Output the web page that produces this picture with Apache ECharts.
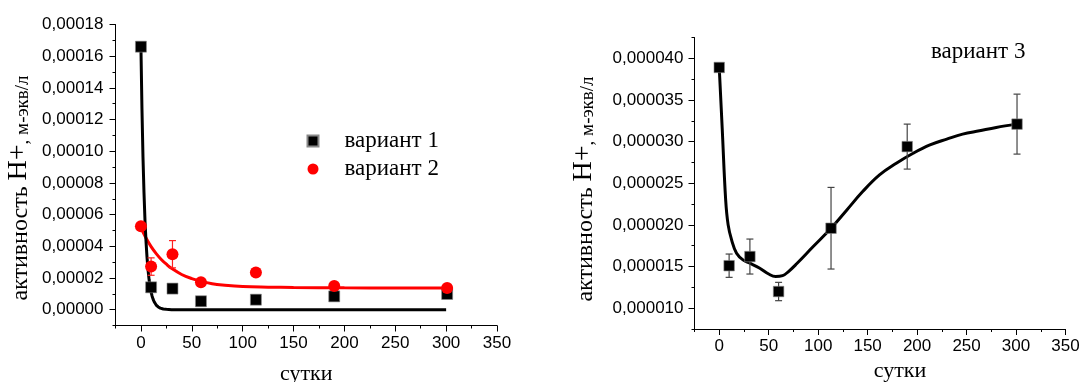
<!DOCTYPE html>
<html>
<head>
<meta charset="utf-8">
<script src="https://cdn.jsdelivr.net/npm/echarts@6/dist/echarts.min.js"></script>
<style>
html,body{margin:0;padding:0;background:#fff;}
#chart{width:1082px;height:382px;}
</style>
</head>
<body>
<div id="chart"></div>
<script>
// ---------- data ----------
const daysL = [0, 10, 31, 59, 113, 190, 301];
const variant1 = [166e-6, 14.1e-6, 13.3e-6, 5.3e-6, 6.3e-6, 8.4e-6, 9.9e-6];
const variant2 = [52.7e-6, 27.2e-6, 35.0e-6, 17.3e-6, 23.4e-6, 15.0e-6, 13.7e-6];
const variant2Err = [0, 5.5e-6, 8.6e-6, 0, 0, 0, 0];

const fit1X = [0, 1, 2, 3, 4, 5, 6, 7, 8, 9, 10, 11, 12, 13, 14, 15, 16, 17, 18, 19, 20, 22, 25, 30, 50, 100, 200, 300];
const fit1Y = [166e-6, 127e-6, 96.7e-6, 74e-6, 56e-6, 43e-6, 32.8e-6, 25e-6, 19e-6, 14.5e-6, 11.1e-6, 8.5e-6, 6.5e-6, 5e-6, 3.8e-6, 2.9e-6, 2.2e-6, 1.7e-6, 1.3e-6, 1.0e-6, 0.75e-6, 0.45e-6, 0.2e-6, 0, 0, 0, 0, 0];
const fit2X = [0, 5, 10, 15, 20, 25, 30, 40, 50, 60, 70, 80, 100, 125, 150, 200, 250, 300];
const fit2Y = [51.6e-6, 45.2e-6, 39.8e-6, 35.4e-6, 31.7e-6, 28.7e-6, 26.1e-6, 22.2e-6, 19.6e-6, 17.7e-6, 16.4e-6, 15.6e-6, 14.6e-6, 14.2e-6, 14.0e-6, 13.8e-6, 13.7e-6, 13.6e-6];

const daysR = [0, 10, 31, 60, 113, 190, 301];
const variant3 = [38.9e-6, 15.1e-6, 16.2e-6, 12.0e-6, 19.6e-6, 29.4e-6, 32.1e-6];
const variant3Err = [0, 1.4e-6, 2.1e-6, 1.1e-6, 4.9e-6, 2.7e-6, 3.6e-6];
const fit3X = [0, 3, 6.5, 9, 12.5, 17.5, 24, 31, 41, 50, 57, 64, 70, 78, 95, 113, 129, 145, 162, 179, 196, 213, 230, 246, 263, 280, 300];
const fit3Y = [38.9e-6, 31.6e-6, 23.0e-6, 20.0e-6, 18.2e-6, 16.6e-6, 15.8e-6, 15.4e-6, 14.8e-6, 14.1e-6, 13.8e-6, 13.9e-6, 14.4e-6, 15.3e-6, 17.4e-6, 19.6e-6, 21.8e-6, 24.0e-6, 26.0e-6, 27.4e-6, 28.6e-6, 29.6e-6, 30.3e-6, 30.9e-6, 31.3e-6, 31.7e-6, 32.1e-6];

const xMajorTicks = [0, 50, 100, 150, 200, 250, 300, 350];
const xMinorTicks = [-25, 25, 75, 125, 175, 225, 275, 325];
const yLMajorTicks = [0, 0.00002, 0.00004, 0.00006, 0.00008, 0.0001, 0.00012, 0.00014, 0.00016, 0.00018];
const yLMinorTicks = [-0.00001, 0.00001, 0.00003, 0.00005, 0.00007, 0.00009, 0.00011, 0.00013, 0.00015, 0.00017];
const yRMajorTicks = [0.00001, 0.000015, 0.00002, 0.000025, 0.00003, 0.000035, 0.00004];
const yRMinorTicks = [0.0000075, 0.0000125, 0.0000175, 0.0000225, 0.0000275, 0.0000325, 0.0000375, 0.0000425];

const legendNames = ['вариант 1', 'вариант 2'];
const label3 = 'вариант 3';
const xTitle = 'сутки';
const yTitle = '{a|активность }{b|Н+}{c|, м-экв/л}';

// ---------- helpers ----------
const SANS = '"Liberation Sans", Arial, sans-serif';
const SERIF = '"Liberation Serif", "Times New Roman", serif';
const zip = (xs, ys) => xs.map((x, i) => [x, ys[i]]);
const fmt = d => v => v.toFixed(d).replace('.', ',');

function xAxes(grid, nameGap, namePad) {
  return [
    {
      type: 'value', gridIndex: grid, min: -25, max: 350, position: 'bottom',
      name: xTitle, nameLocation: 'middle', nameGap: nameGap,
      nameTextStyle: {fontFamily: SERIF, fontSize: 22, color: '#000', padding: namePad},
      axisLine: {show: true, onZero: false, lineStyle: {color: '#000', width: 1}},
      axisTick: {show: true, length: 6, customValues: xMajorTicks, lineStyle: {color: '#000'}},
      axisLabel: {customValues: xMajorTicks, fontFamily: SANS, fontSize: 17, color: '#000', margin: 9},
      splitLine: {show: false}
    },
    {
      type: 'value', gridIndex: grid, min: -25, max: 350, position: 'bottom',
      axisLine: {show: false, onZero: false},
      axisTick: {show: true, length: 3, customValues: xMinorTicks, lineStyle: {color: '#000'}},
      axisLabel: {show: false},
      splitLine: {show: false}
    }
  ];
}
function yAxes(grid, min, max, major, minor, digits, margin) {
  return [
    {
      type: 'value', gridIndex: grid, min: min, max: max, position: 'left',
      axisLine: {show: true, onZero: false, lineStyle: {color: '#000', width: 1}},
      axisTick: {show: true, length: 6, customValues: major, lineStyle: {color: '#000'}},
      axisLabel: {customValues: major, formatter: fmt(digits), fontFamily: SANS, fontSize: 17, color: '#000', margin: margin},
      splitLine: {show: false}
    },
    {
      type: 'value', gridIndex: grid, min: min, max: max, position: 'left',
      axisLine: {show: false, onZero: false},
      axisTick: {show: true, length: 3, customValues: minor, lineStyle: {color: '#000'}},
      axisLabel: {show: false},
      splitLine: {show: false}
    }
  ];
}
function errSeries(xi, yi, days, vals, errs, color, z) {
  const data = days.map((d, i) => [d, vals[i] - errs[i], vals[i] + errs[i]]).filter(e => e[2] > e[1]);
  return {
    type: 'custom', xAxisIndex: xi, yAxisIndex: yi, z: z, silent: true,
    encode: {x: 0, y: [1, 2]},
    data: data,
    renderItem: (params, api) => {
      const lo = api.coord([api.value(0), api.value(1)]);
      const hi = api.coord([api.value(0), api.value(2)]);
      const w = 3.5;
      const st = {stroke: color, lineWidth: 1.2};
      return {type: 'group', children: [
        {type: 'line', shape: {x1: lo[0], y1: lo[1], x2: hi[0], y2: hi[1]}, style: st},
        {type: 'line', shape: {x1: hi[0] - w, y1: hi[1], x2: hi[0] + w, y2: hi[1]}, style: st},
        {type: 'line', shape: {x1: lo[0] - w, y1: lo[1], x2: lo[0] + w, y2: lo[1]}, style: st}
      ]};
    }
  };
}

const titleRich = {
  a: {fontFamily: SERIF, fontSize: 24, lineHeight: 30, verticalAlign: 'bottom', color: '#000'},
  b: {fontFamily: SERIF, fontSize: 28, lineHeight: 30, verticalAlign: 'bottom', color: '#000'},
  c: {fontFamily: SERIF, fontSize: 19, lineHeight: 30, verticalAlign: 'bottom', color: '#000'}
};

const chart = echarts.init(document.getElementById('chart'), null, {renderer: 'canvas'});
const option = {
  backgroundColor: '#fff',
  animation: false,
  grid: [
    {left: 115.5, top: 24.5, width: 381.5, height: 301, containLabel: false, outerBoundsMode: 'none'},
    {left: 694.5, top: 37.5, width: 371, height: 291.5, containLabel: false, outerBoundsMode: 'none'}
  ],
  xAxis: [...xAxes(0, 38, [0, 0, 0, 0]), ...xAxes(1, 31, [0, 0, 0, 40])],
  yAxis: [
    ...yAxes(0, -0.00001, 0.00018, yLMajorTicks, yLMinorTicks, 5, 12),
    ...yAxes(1, 0.0000075, 0.0000425, yRMajorTicks, yRMinorTicks, 6, 11)
  ],
  legend: {
    orient: 'vertical', left: 306.5, top: 129, itemGap: 4, padding: 0,
    itemWidth: 11, itemHeight: 11,
    data: legendNames,
    textStyle: {fontFamily: SERIF, fontSize: 23, lineHeight: 24, color: '#000', padding: [0, 0, 0, 21]},
    selectedMode: false
  },
  graphic: [
    {type: 'text', x: 33, y: 188, rotation: Math.PI / 2,
      style: {text: yTitle, rich: titleRich, align: 'center', verticalAlign: 'bottom'}},
    {type: 'text', x: 598, y: 189, rotation: Math.PI / 2,
      style: {text: yTitle, rich: titleRich, align: 'center', verticalAlign: 'bottom'}},
    {type: 'text', x: 931, y: 52,
      style: {text: label3, fontFamily: SERIF, fontSize: 23, fill: '#000', align: 'left', verticalAlign: 'middle'}}
  ],
  series: [
    {type: 'line', name: 'fit2', xAxisIndex: 0, yAxisIndex: 0, data: zip(fit2X, fit2Y),
      showSymbol: false, smooth: 0.4, lineStyle: {color: '#ff0000', width: 3}, z: 2, silent: true},
    {type: 'line', name: 'fit1', xAxisIndex: 0, yAxisIndex: 0, data: zip(fit1X, fit1Y),
      showSymbol: false, smooth: false, lineStyle: {color: '#000', width: 3, join: 'round'}, z: 3, silent: true},
    errSeries(0, 0, daysL, variant2, variant2Err, '#ff2020', 4),
    {type: 'scatter', name: legendNames[0], xAxisIndex: 0, yAxisIndex: 0, data: zip(daysL, variant1),
      symbol: 'rect', symbolSize: 11, itemStyle: {color: '#000', opacity: 1, borderColor: '#888', borderWidth: 0.6}, z: 5},
    {type: 'scatter', name: legendNames[1], xAxisIndex: 0, yAxisIndex: 0, data: zip(daysL, variant2),
      symbol: 'circle', symbolSize: 12, itemStyle: {color: '#ff0000', opacity: 1}, z: 6},

    errSeries(2, 2, daysR, variant3, variant3Err, '#444', 4),
    {type: 'line', name: 'fit3', xAxisIndex: 2, yAxisIndex: 2, data: zip(fit3X, fit3Y),
      showSymbol: false, smooth: 0.4, lineStyle: {color: '#000', width: 3}, z: 3, silent: true},
    {type: 'scatter', name: label3, xAxisIndex: 2, yAxisIndex: 2, data: zip(daysR, variant3),
      symbol: 'rect', symbolSize: 10.5, itemStyle: {color: '#000', opacity: 1, borderColor: '#888', borderWidth: 0.6}, z: 5}
  ]
};
chart.setOption(option);
</script>
</body>
</html>
